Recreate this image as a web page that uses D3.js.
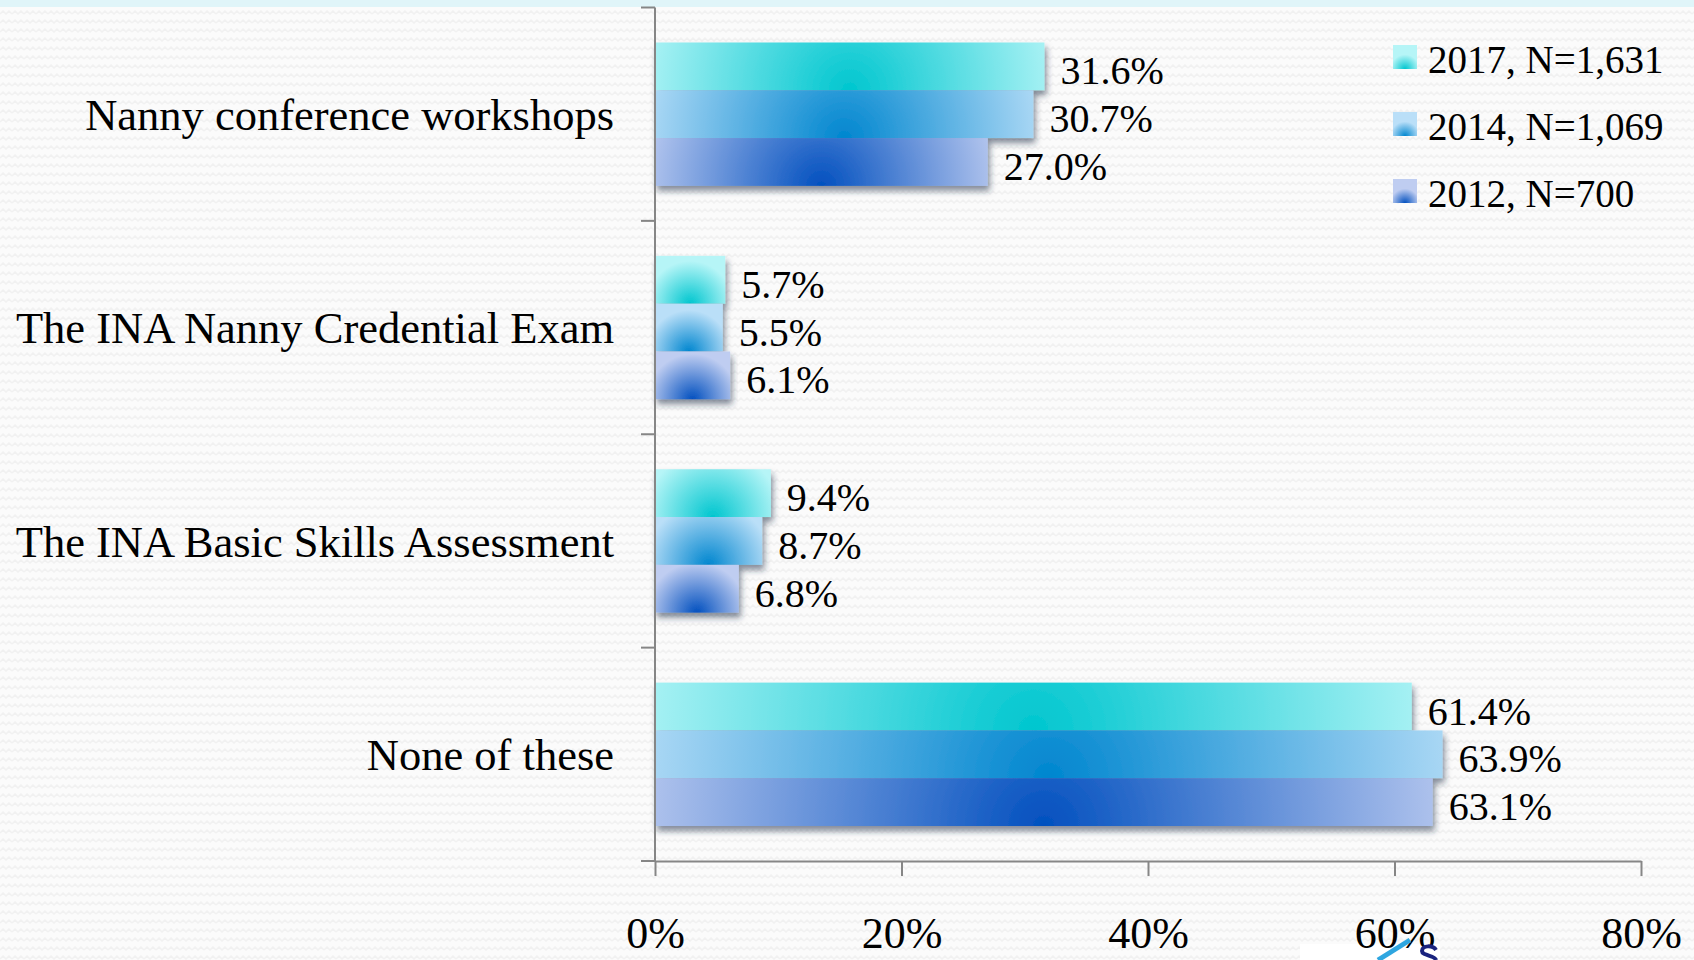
<!DOCTYPE html>
<html>
<head>
<meta charset="utf-8">
<script src="https://cdn.jsdelivr.net/npm/d3@7"></script>
<style>
  body { margin: 0; background: #fafafa; }
  text { font-family: "Liberation Serif", "DejaVu Serif", serif; fill: #000; }
</style>
</head>
<body>
<div id="chart-area"></div>
<script>
// survey: which INA offerings have you used
const categories = ["Nanny conference workshops", "The INA Nanny Credential Exam",
                    "The INA Basic Skills Assessment", "None of these"]
const seriesNames = ["2017, N=1,631", "2014, N=1,069", "2012, N=700"]
const values2017 = [31.6, 5.7, 9.4, 61.4]
const values2014 = [30.7, 5.5, 8.7, 63.9]
const values2012 = [27.0, 6.1, 6.8, 63.1]
const xTicks = [0, 20, 40, 60, 80]

const darkColors = ["#00c6cf", "#0086cf", "#0250bf"]
const lightColors = ["#b6f5f7", "#badff8", "#bfcdf1"]

const W = 1694, H = 960
const margin = { top: 7.5, left: 655, right: 53, bottom: 99 }
const width = W - margin.left - margin.right,
      height = H - margin.top - margin.bottom

const svg = d3.select("#chart-area").append("svg")
    .attr("width", W)
    .attr("height", H)

const defs = svg.append("defs")

// faint wavy paper texture
const pat = defs.append("pattern")
    .attr("id", "paper")
    .attr("width", 12).attr("height", 9)
    .attr("patternUnits", "userSpaceOnUse")
pat.append("rect").attr("width", 12).attr("height", 9).attr("fill", "#fbfbfb")
pat.append("path").attr("d", "M0,5 L3,2 L6,5 L9,2 L12,5")
    .attr("fill", "none").attr("stroke", "#f1f1f1").attr("stroke-width", 1.5)

const shadow = defs.append("filter").attr("id", "shadow")
    .attr("x", "-5%").attr("y", "-10%").attr("width", "115%").attr("height", "130%")
shadow.append("feDropShadow")
    .attr("dx", 2).attr("dy", 5).attr("stdDeviation", 3)
    .attr("flood-color", "#1c3346").attr("flood-opacity", 0.55)

svg.append("rect").attr("width", W).attr("height", H).attr("fill", "url(#paper)")
svg.append("rect").attr("width", W).attr("height", 7).attr("fill", "#e0f5f9")
// white patch behind the logo corner
svg.append("rect").attr("x", 1300).attr("y", 944).attr("width", 140).attr("height", 16).attr("fill", "#ffffff")

const g = svg.append("g")
    .attr("transform", "translate(" + margin.left + "," + margin.top + ")")

const data = categories.map(function(c, i) {
    return { cat: c, vals: [values2017[i], values2014[i], values2012[i]] }
})

const x = d3.scaleLinear().domain([0, 80]).range([0, width])

const y0 = d3.scaleBand()
    .domain(categories)
    .range([0, height])
    .paddingInner(0.328)
    .paddingOuter(0.164)

const y1 = d3.scaleBand()
    .domain(d3.range(seriesNames.length))
    .range([0, y0.bandwidth()])

// bars, one gradient each so the glow keeps its round shape
let gid = 0
data.forEach(function(d) {
    const grp = g.append("g")
        .attr("transform", "translate(0," + y0(d.cat) + ")")
        .attr("filter", "url(#shadow)")
    d.vals.forEach(function(v, s) {
        const w = x(v), top = y1(s), h = y1.bandwidth()
        const id = "grad" + (gid++)
        const rg = defs.append("radialGradient")
            .attr("id", id)
            .attr("gradientUnits", "userSpaceOnUse")
            .attr("cx", w / 2)
            .attr("cy", top + h)
            .attr("r", w * 0.55 + 4)
        rg.append("stop").attr("offset", 0).attr("stop-color", darkColors[s])
        rg.append("stop").attr("offset", 1).attr("stop-color", lightColors[s])
        grp.append("rect")
            .attr("x", 0)
            .attr("y", top)
            .attr("width", w)
            .attr("height", h)
            .attr("fill", "url(#" + id + ")")
    })
})

// value labels
data.forEach(function(d) {
    d.vals.forEach(function(v, s) {
        g.append("text")
            .attr("x", x(v) + 16)
            .attr("y", y0(d.cat) + y1(s) + y1.bandwidth() / 2 + 4)
            .attr("dy", "0.35em")
            .attr("font-size", "40px")
            .text(v.toFixed(1) + "%")
    })
})

// y axis: line with ticks on category boundaries
const axisColor = "#868686"
g.append("line")
    .attr("x1", 0).attr("x2", 0).attr("y1", 0).attr("y2", height)
    .attr("stroke", axisColor).attr("stroke-width", 2)
d3.range(categories.length + 1).forEach(function(i) {
    const yy = i * y0.step()
    g.append("line")
        .attr("x1", -14).attr("x2", 0).attr("y1", yy).attr("y2", yy)
        .attr("stroke", axisColor).attr("stroke-width", 2)
})

g.selectAll(".cat-label")
    .data(categories)
    .enter().append("text")
    .attr("class", "cat-label")
    .attr("x", -41)
    .attr("y", function(d) { return y0(d) + y0.bandwidth() / 2 })
    .attr("dy", "0.35em")
    .attr("text-anchor", "end")
    .attr("font-size", "44.5px")
    .text(function(d) { return d })

// x axis
const xAxisCall = d3.axisBottom(x)
    .tickValues(xTicks)
    .tickFormat(function(d) { return d + "%" })
    .tickSize(15)
    .tickSizeOuter(0)
    .tickPadding(41)
const xAxis = g.append("g")
    .attr("transform", "translate(0," + height + ")")
    .call(xAxisCall)
xAxis.select(".domain").attr("stroke", axisColor).attr("stroke-width", 2)
xAxis.selectAll(".tick line").attr("stroke", axisColor).attr("stroke-width", 2)
xAxis.selectAll(".tick text")
    .attr("font-family", "Liberation Serif")
    .attr("font-size", "44px")
    .attr("fill", "#000")

// legend
const legend = svg.append("g").attr("transform", "translate(1393,45)")
seriesNames.forEach(function(name, s) {
    const ly = s * 67
    const id = "lgrad" + s
    const rg = defs.append("radialGradient")
        .attr("id", id)
        .attr("cx", 0.5).attr("cy", 1).attr("r", 0.6)
    rg.append("stop").attr("offset", 0).attr("stop-color", darkColors[s])
    rg.append("stop").attr("offset", 1).attr("stop-color", lightColors[s])
    legend.append("rect")
        .attr("x", 0).attr("y", ly)
        .attr("width", 24).attr("height", 24)
        .attr("fill", "url(#" + id + ")")
    legend.append("text")
        .attr("x", 35)
        .attr("y", ly + 28)
        .attr("font-size", "39px")
        .text(name)
})

// corner of the logo peeking in at the bottom (swoosh + top of a letter)
svg.append("line")
    .attr("x1", 1378).attr("y1", 960).attr("x2", 1410).attr("y2", 940)
    .attr("stroke", "#2ea6e0").attr("stroke-width", 5)
svg.append("path")
    .attr("d", "M1436,950 C1433,945 1422,945 1422,951 C1422,956 1435,955 1436,960")
    .attr("fill", "none").attr("stroke", "#1a237e").attr("stroke-width", 4)
</script>
</body>
</html>
